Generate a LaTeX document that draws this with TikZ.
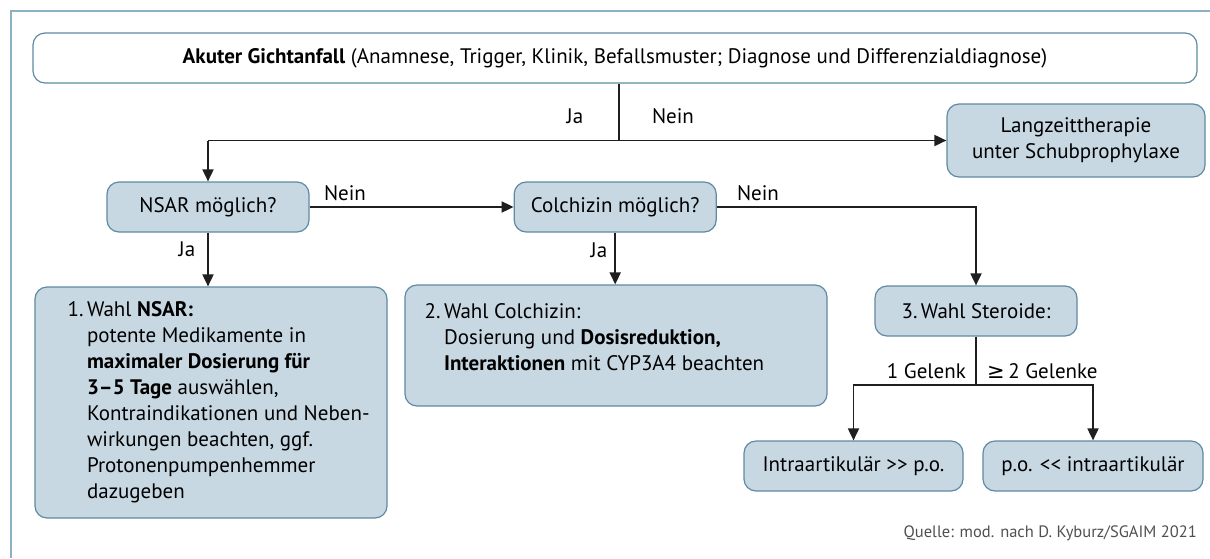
\documentclass[tikz,border=0pt]{standalone}
\usepackage{fontspec}
\setmainfont{PT Sans}
\newfontfamily\symfont{DejaVu Sans}
\usetikzlibrary{positioning,arrows.meta}
\definecolor{boxfill}{HTML}{C8D8E2}
\definecolor{boxline}{HTML}{5E8AA3}
\definecolor{frameline}{HTML}{8DB1C4}
\definecolor{srcgray}{HTML}{505050}

\begin{document}
\begin{tikzpicture}[x=1pt,y=-1pt,font=\fontsize{21}{26}\selectfont,node distance=20pt,
  >={Triangle[length=12pt,width=11pt]},
  box/.style={draw=boxline,fill=boxfill,line width=1.2pt,rounded corners=12pt,
    minimum width=202pt,minimum height=50pt,align=center,inner sep=0pt},
  lbl/.style={inner sep=0pt,anchor=base},
  conn/.style={line width=1.8pt,draw=black!88}]
\useasboundingbox (0,0) rectangle (1210,558);
\draw[frameline,line width=1.2pt] (11,558) -- (11,11) -- (1210,11);
\node[box,fill=white,minimum width=1164pt] (akut) at (615,58)
  {\textbf{Akuter Gichtanfall} (Anamnese, Trigger, Klinik, Befallsmuster; Diagnose und Differenzialdiagnose)};
\node[box] (nsar) at (208,207) {NSAR möglich?};
\node[box,right=204pt of nsar] (colch) {Colchizin möglich?};
\node[box,minimum width=258pt,minimum height=73pt] (langz) at (1076,140.5) {Langzeittherapie\\unter Schubprophylaxe};
\node[box,minimum width=352pt,minimum height=231pt] (wahl1) at (211,402.5) {};
\node[anchor=north west,inner sep=0pt] (wahl1txt) at ([shift={(33pt,-12pt)}]wahl1.north west)
  {\begin{tabular}{@{}l@{\,}l@{}}
   1.&Wahl \textbf{NSAR:}\\
   &potente Medikamente in\\
   &\textbf{maximaler Dosierung für}\\
   &\textbf{3--5 Tage} auswählen,\\
   &Kontraindikationen und Neben-\\
   &wirkungen beachten, ggf.\\
   &Protonenpumpenhemmer\\
   &dazugeben
   \end{tabular}};
\node[box,minimum width=422pt,minimum height=121pt] (wahl2) at (616,345.5) {};
\node[anchor=north west,inner sep=0pt] (wahl2txt) at ([shift={(20pt,-16pt)}]wahl2.north west)
  {\begin{tabular}{@{}l@{\,}l@{}}
   2.&Wahl Colchizin:\\
   &Dosierung und \textbf{Dosisreduktion,}\\
   &\textbf{Interaktionen} mit CYP3A4 beachten
   \end{tabular}};
\node[box] (steroid) at (976,311) {3.\,Wahl Steroide:};
\node[box,minimum width=219pt] (intra) at (853.5,466) {Intraartikulär >\kern0pt> p.o.};
\node[box,minimum width=220pt] (po) at (1093,466) {p.o. <\kern0pt< intraartikulär};
\coordinate (split) at (619,140.5);
\coordinate (gabel) at (976,385);
\draw[conn] (akut.south -| split) -- (split);
\draw[conn,->] (nsar.north |- split) -- (nsar.north);
\draw[conn,->] (nsar.north |- split) -- (langz.west);
\draw[conn,->] (nsar) -- (colch);
\draw[conn,->] (colch) -| (steroid);
\draw[conn,->] (nsar) -- (nsar |- wahl1.north);
\draw[conn,->] (colch) -- (colch |- wahl2.north);
\draw[conn] (steroid) -- (gabel);
\draw[conn,->] (gabel) -| (intra);
\draw[conn,->] (gabel) -| (po);
\node[lbl] (ja0) at (575,123) {Ja};
\node[lbl] (nein0) at (673,123) {Nein};
\node[lbl] (nein1) at (345,200) {Nein};
\node[lbl] (nein2) at (758,200) {Nein};
\node[lbl] (ja1) at (187,256) {Ja};
\node[lbl] (ja2) at (599,257) {Ja};
\node[lbl,anchor=base east] (gel1) at (966,378) {1 Gelenk};
\node[lbl,anchor=base west] (gel2) at (987,378) {{\symfont ≥}\,2 Gelenke};
\node[lbl,anchor=base east,font=\fontsize{16.5}{19}\selectfont,text=srcgray] (quelle) at (1197,537)
  {Quelle: mod. nach D. Kyburz/SGAIM 2021};
\end{tikzpicture}
\end{document}
